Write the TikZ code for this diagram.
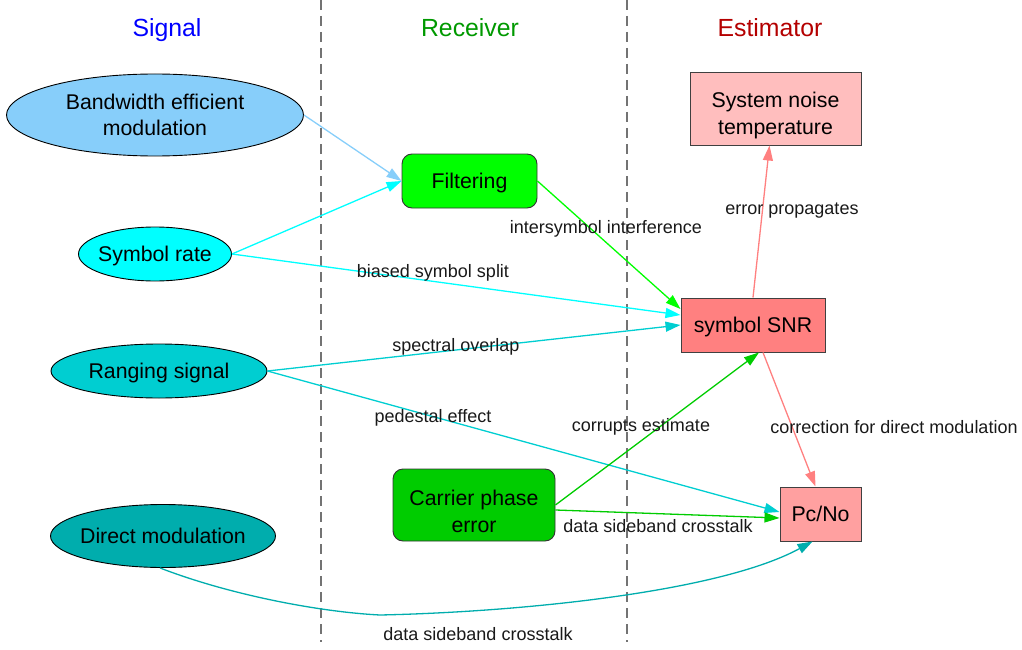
\documentclass[tikz,border=0pt]{standalone}
\usepackage{fontspec}
\setmainfont{Liberation Sans}
\usetikzlibrary{shapes.geometric,arrows.meta,calc}

\definecolor{cskyblue}{RGB}{135,206,250}
\definecolor{ccyan}{RGB}{0,255,255}
\definecolor{cturq}{RGB}{0,206,209}
\definecolor{cteal}{RGB}{0,173,173}
\definecolor{cgreen}{RGB}{0,255,0}
\definecolor{cgreendark}{RGB}{0,204,0}
\definecolor{cpinklight}{RGB}{255,190,190}
\definecolor{csalmon}{RGB}{255,128,128}
\definecolor{cpink}{RGB}{255,160,160}
\definecolor{ctitleblue}{RGB}{0,0,255}
\definecolor{ctitlegreen}{RGB}{0,153,0}
\definecolor{ctitlered}{RGB}{180,0,0}

% tall invisible strut that pushes two-line box text a little lower
\newcommand{\lowstrut}{\rule{0pt}{28pt}}

\tikzset{
  nodetext/.style={font=\fontsize{21.3}{26.5}\selectfont, align=center, text=black},
  oneline/.style={text depth=0pt},
  sigellipse/.style={nodetext, ellipse, draw=black, line width=0.9pt, inner xsep=-12pt, inner ysep=-6pt},
  rxbox/.style={nodetext, rectangle, rounded corners=10pt, draw=black!80, line width=0.9pt, inner sep=0pt},
  estbox/.style={nodetext, rectangle, draw=black!75, line width=1pt, inner sep=0pt},
  coltitle/.style={font=\fontsize{24.8}{28}\selectfont, anchor=base},
  divider/.style={draw=black!55, line width=1.6pt, dash pattern=on 10pt off 6pt},
  link/.style={line width=1.3pt, -{Triangle[length=15pt,width=10pt]}},
  linklabel/.style={font=\fontsize{18}{21}\selectfont, text=black!90, inner sep=0pt}
}

\begin{document}
\begin{tikzpicture}[x=1pt,y=-1pt]
\useasboundingbox (0,0) rectangle (1022,650);

% column dividers
\coordinate (d1top) at (321,0);
\coordinate (d1bot) at (321,642);
\coordinate (d2top) at (627,0);
\coordinate (d2bot) at (627,642);
\draw[divider] (d1top) -- (d1bot);
\draw[divider] (d2top) -- (d2bot);

% column titles (placed on their baselines)
\node[coltitle, text=ctitleblue]  (tsig) at (167,37) {Signal};
\node[coltitle, text=ctitlegreen] (trx)  at (470,37) {Receiver};
\node[coltitle, text=ctitlered]   (test) at (770,37) {Estimator};

% signal properties
\node[sigellipse, fill=cskyblue, minimum width=297pt, minimum height=82pt] (bw) at (155,115) {Bandwidth efficient\\modulation};
\node[sigellipse, oneline, fill=ccyan, minimum width=153pt, minimum height=54pt] (sr) at (155,254) {Symbol rate};
\node[sigellipse, oneline, fill=cturq, minimum width=216pt, minimum height=54pt] (rng) at (159,371) {Ranging signal};
\node[sigellipse, oneline, fill=cteal, minimum width=225pt, minimum height=63pt] (dm) at (163,536) {Direct modulation};

% receiver effects
\node[rxbox, oneline, fill=cgreen, minimum width=135pt, minimum height=54pt] (filt) at (469.5,181) {Filtering};
\node[rxbox, fill=cgreendark, minimum width=162pt, minimum height=72pt] (cpe) at (474,505) {\lowstrut Carrier phase\\error};

% estimator quantities
\node[estbox, fill=cpinklight, minimum width=171pt, minimum height=72pt] (snt) at (775.5,109) {\lowstrut System noise\\temperature};
\node[estbox, oneline, fill=csalmon, minimum width=144pt, minimum height=54pt] (snr) at (753,325) {symbol SNR};
\node[estbox, oneline, fill=cpink, minimum width=81pt, minimum height=54pt] (pc) at (820.5,514) {Pc/No};

% connectors
\draw[link, cskyblue] (bw.east) -- (filt.west);
\draw[link, ccyan] (sr.east) -- (filt.west);
\draw[link, ccyan] (sr.east) -- ($(snr.west)+(0,-10)$);
\draw[link, cturq] (rng.east) -- (snr.west);
\draw[link, cturq] (rng.east) -- ($(pc.west)+(0,-2)$);
\draw[link, cgreen] (filt.east) -- ($(snr.west)+(0,-16)$);
\draw[link, cgreendark] (cpe.east) -- ($(snr.south)+(6,0)$);
\draw[link, cgreendark] ($(cpe.east)+(0,5)$) -- ($(pc.west)+(0,4)$);
\draw[link, csalmon] (snr.north) -- ($(snt.south)+(-6,0)$);
\draw[link, csalmon] ($(snr.south)+(10,0)$) -- ($(pc.north)+(-5,0)$);
\coordinate (dmbend) at (380,615);
\draw[link, cteal] ($(dm.south)+(-3,0)$) .. controls (230,595) and (320,612) .. (dmbend)
  .. controls (520,612) and (720,592) .. ($(pc.south)+(-8,0)$);

% connector labels
\node[linklabel] (l1) at (606,229) {intersymbol interference};
\node[linklabel] (l2) at (433,273) {biased symbol split};
\node[linklabel] (l3) at (456,347) {spectral overlap};
\node[linklabel] (l4) at (433,418) {pedestal effect};
\node[linklabel] (l5) at (641,427) {corrupts estimate};
\node[linklabel] (l6) at (658,526) {data sideband crosstalk};
\node[linklabel] (l7) at (792,211) {error propagates};
\node[linklabel] (l8) at (894,427) {correction for direct modulation};
\node[linklabel] (l9) at (478,634) {data sideband crosstalk};
\end{tikzpicture}
\end{document}
